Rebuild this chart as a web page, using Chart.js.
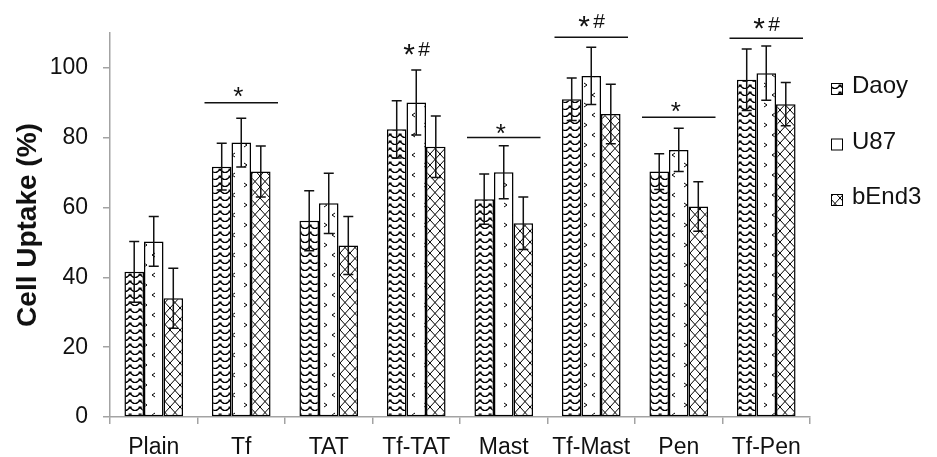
<!DOCTYPE html>
<html>
<head>
<meta charset="utf-8">
<script src="https://cdn.jsdelivr.net/npm/chart.js@4/dist/chart.umd.min.js"></script>
<style>
  html, body { margin: 0; padding: 0; background: #fff; }
  #wrap { width: 937px; height: 457px; position: relative; }
</style>
</head>
<body>
<div id="wrap"><canvas id="c" width="937" height="457"></canvas></div>
<script>
// Formulations on the x axis
const categories = ['Plain', 'Tf', 'TAT', 'Tf-TAT', 'Mast', 'Tf-Mast', 'Pen', 'Tf-Pen'];

// Cell uptake (%) per cell line, with error (± SD)
const daoy     = [41.6, 71.7, 56.2, 82.4, 62.4, 91.0, 70.3, 96.6];
const daoyErr  = [8.7, 6.7, 8.6, 8.2, 7.2, 6.1, 5.1, 8.8];
const u87      = [50.3, 78.6, 61.2, 90.1, 70.1, 97.7, 76.5, 98.5];
const u87Err   = [7.1, 7.0, 8.6, 9.3, 7.6, 8.2, 6.2, 7.8];
const bend3    = [34.0, 70.3, 49.1, 77.4, 55.5, 86.8, 60.3, 89.6];
const bend3Err = [8.6, 7.3, 8.3, 8.8, 7.5, 8.5, 7.1, 6.2];

const seriesNames = ['Daoy', 'U87', 'bEnd3'];

// Y-axis ticks
const yTicks = [0, 20, 40, 60, 80, 100];

// Significance markers: label per group, height of the bracket line, label height
const sigLabels  = ['', '*', '', '*#', '*', '*#', '*', '*#'];
const sigLineAt  = [null, 90.0, null, null, 80.1, 108.8, 85.9, 108.5];
const sigLabelAt = [null, 93.2, null, 105.4, 82.6, 113.4, 88.9, 112.6];

const FONT = '"Liberation Sans", Arial, Helvetica, sans-serif';
const INK = '#111';
const AXIS = '#a3a3a3';

const canvas = document.getElementById('c');
const ctx = canvas.getContext('2d');

function tile(w, h, draw) {
  const t = document.createElement('canvas');
  t.width = w; t.height = h;
  const g = t.getContext('2d');
  g.fillStyle = '#fff';
  g.fillRect(0, 0, w, h);
  g.strokeStyle = '#000';
  g.fillStyle = '#000';
  draw(g);
  return ctx.createPattern(t, 'repeat');
}

// Wavy chevrons with dots
const wavePattern = tile(10, 7, g => {
  g.lineWidth = 1.2;
  g.beginPath();
  g.moveTo(0, 1.5);
  g.quadraticCurveTo(5, 7.5, 10, 1.5);
  g.stroke();
  g.fillRect(0, 0.5, 1.6, 1.6);
  g.fillRect(8.6, 0.5, 1.6, 1.6);
});

// Sparse angle marks
const markPattern = tile(20, 20, g => {
  g.lineWidth = 1;
  g.beginPath();
  g.moveTo(4, 3); g.lineTo(7, 5); g.lineTo(4, 7);
  g.moveTo(15, 13); g.lineTo(12, 15); g.lineTo(15, 17);
  g.stroke();
});

// Diagonal lattice
const latticePattern = tile(10, 11, g => {
  g.lineWidth = 1;
  g.beginPath();
  g.moveTo(0, 0); g.lineTo(10, 11);
  g.moveTo(10, 0); g.lineTo(0, 11);
  g.stroke();
});

const patterns = [wavePattern, markPattern, latticePattern];
const values = [daoy, u87, bend3];
const errors = [daoyErr, u87Err, bend3Err];

const datasets = seriesNames.map((name, i) => ({
  label: name,
  data: values[i],
  errors: errors[i],
  backgroundColor: patterns[i],
  borderColor: '#000',
  borderWidth: 1.5,
  borderSkipped: false,
  categoryPercentage: 0.67,
  barPercentage: 1.0
}));

const errorBars = {
  id: 'errorBars',
  afterDatasetsDraw(chart) {
    const y = chart.scales.y;
    const c = chart.ctx;
    c.save();
    c.strokeStyle = INK;
    c.lineWidth = 1.5;
    chart.data.datasets.forEach((ds, i) => {
      chart.getDatasetMeta(i).data.forEach((bar, j) => {
        const v = ds.data[j], e = ds.errors[j];
        const top = y.getPixelForValue(v + e);
        const bot = y.getPixelForValue(v - e);
        const cap = 5;
        c.beginPath();
        c.moveTo(bar.x, top); c.lineTo(bar.x, bot);
        c.moveTo(bar.x - cap, top); c.lineTo(bar.x + cap, top);
        c.moveTo(bar.x - cap, bot); c.lineTo(bar.x + cap, bot);
        c.stroke();
      });
    });
    c.restore();
  }
};

function glyphAt(c, ch, font, cx, cy) {
  c.font = font;
  const m = c.measureText(ch);
  const w = m.actualBoundingBoxLeft + m.actualBoundingBoxRight;
  const h = m.actualBoundingBoxAscent + m.actualBoundingBoxDescent;
  const x = cx - w / 2 + m.actualBoundingBoxLeft;
  const yb = cy + h / 2 - m.actualBoundingBoxDescent;
  c.fillText(ch, x, yb);
}

const significance = {
  id: 'significance',
  afterDraw(chart) {
    const x = chart.scales.x, y = chart.scales.y;
    const c = chart.ctx;
    const catW = x.getPixelForValue(1) - x.getPixelForValue(0);
    const half = catW * 0.42;
    c.save();
    c.strokeStyle = INK;
    c.fillStyle = INK;
    c.lineWidth = 1.5;
    c.textAlign = 'left';
    c.textBaseline = 'alphabetic';
    sigLabels.forEach((lab, j) => {
      if (!lab) return;
      const cx = x.getPixelForValue(j);
      if (sigLineAt[j] !== null) {
        const ly = y.getPixelForValue(sigLineAt[j]);
        c.beginPath();
        c.moveTo(cx - half, ly); c.lineTo(cx + half, ly);
        c.stroke();
      }
      const ty = y.getPixelForValue(sigLabelAt[j]);
      if (lab === '*') {
        glyphAt(c, '*', '26px ' + FONT, cx - 3, ty);
      } else {
        glyphAt(c, '*', '30px ' + FONT, cx - 7, ty);
        glyphAt(c, '#', '21px ' + FONT, cx + 8, ty);
      }
    });
    c.restore();
  }
};

const sideLegend = {
  id: 'sideLegend',
  afterDraw(chart) {
    const c = chart.ctx;
    c.save();
    c.font = '24px ' + FONT;
    c.textAlign = 'left';
    c.textBaseline = 'alphabetic';
    chart.data.datasets.forEach((ds, i) => {
      const base = 93 + i * 55.5;
      c.fillStyle = ds.backgroundColor;
      c.fillRect(831.5, base - 9.5, 11, 11);
      c.strokeStyle = '#000';
      c.lineWidth = 1;
      c.strokeRect(831.5, base - 9.5, 11, 11);
      c.fillStyle = INK;
      c.fillText(ds.label, 852, base);
    });
    c.restore();
  }
};

new Chart(canvas, {
  type: 'bar',
  data: { labels: categories, datasets },
  options: {
    responsive: false,
    animation: false,
    layout: { padding: { left: 0, right: 127, top: 33, bottom: 0 } },
    plugins: {
      legend: { display: false },
      tooltip: { enabled: false }
    },
    scales: {
      x: {
        grid: {
          offset: true,
          drawOnChartArea: false,
          drawTicks: true,
          tickLength: 7,
          color: AXIS,
          lineWidth: 1.5
        },
        border: { display: true, color: AXIS, width: 1.5 },
        ticks: {
          color: INK,
          font: { family: FONT, size: 23 },
          padding: 10,
          maxRotation: 0,
          autoSkip: false
        },
        afterFit(scale) { scale.height = 40; }
      },
      y: {
        min: 0,
        max: 110,
        afterBuildTicks(scale) {
          scale.ticks = yTicks.map(v => ({ value: v }));
        },
        grid: {
          drawOnChartArea: false,
          drawTicks: true,
          tickLength: 7,
          color: AXIS,
          lineWidth: 1.5
        },
        border: { display: true, color: AXIS, width: 1.5 },
        ticks: {
          color: INK,
          font: { family: FONT, size: 23 },
          padding: 15
        },
        title: {
          display: true,
          text: 'Cell Uptake (%)',
          color: INK,
          font: { family: FONT, size: 28, weight: 'bold' },
          padding: { top: 11, bottom: 0 }
        },
        afterFit(scale) { scale.width = 110; }
      }
    }
  },
  plugins: [errorBars, significance, sideLegend]
});
</script>
</body>
</html>
